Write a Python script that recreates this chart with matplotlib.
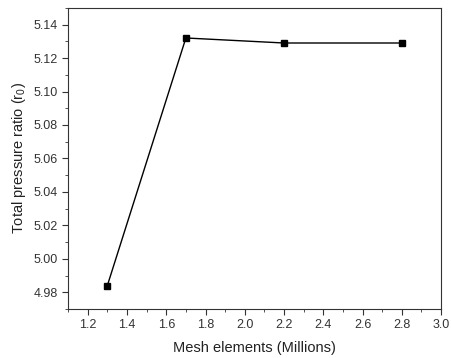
import matplotlib
matplotlib.use("Agg")
import matplotlib.pyplot as plt
from matplotlib.ticker import MultipleLocator, FormatStrFormatter

# Datos de la malla
elementos = [1.3, 1.7, 2.2, 2.8]
razon = [4.984, 5.132, 5.129, 5.129]

plt.rcParams['font.family'] = ['Liberation Sans', 'DejaVu Sans']
plt.rcParams['mathtext.fontset'] = 'custom'
plt.rcParams['mathtext.rm'] = 'Liberation Sans'
plt.rcParams['mathtext.it'] = 'Liberation Sans'

fig = plt.figure(figsize=(4.51, 3.58), dpi=100)
ax = fig.add_axes([0.151, 0.137, 0.827, 0.841])

ax.plot(elementos, razon, color="black", linewidth=1, marker="s", markersize=5)

ax.set_xlim(1.1, 3.0)
ax.set_ylim(4.97, 5.15)
ax.xaxis.set_minor_locator(MultipleLocator(0.1))
ax.yaxis.set_major_locator(MultipleLocator(0.02))
ax.yaxis.set_minor_locator(MultipleLocator(0.01))
ax.set_xticks([v / 10 for v in range(12, 31, 2)])
ax.xaxis.set_major_formatter(FormatStrFormatter("%.1f"))
ax.yaxis.set_major_formatter(FormatStrFormatter("%.2f"))

ax.tick_params(which="both", direction="out", colors="#333333", labelsize=9)
ax.tick_params(which="major", length=4)
ax.tick_params(which="minor", length=2)
for s in ax.spines.values():
    s.set_color("#333333")

ax.set_xlabel("Mesh elements (Millions)", fontsize=10.5, color="#222222", labelpad=7)
ax.set_ylabel("Total pressure ratio (r$_0$)", fontsize=10.5, color="#222222", labelpad=4)

fig.savefig("out.png", dpi=100)
